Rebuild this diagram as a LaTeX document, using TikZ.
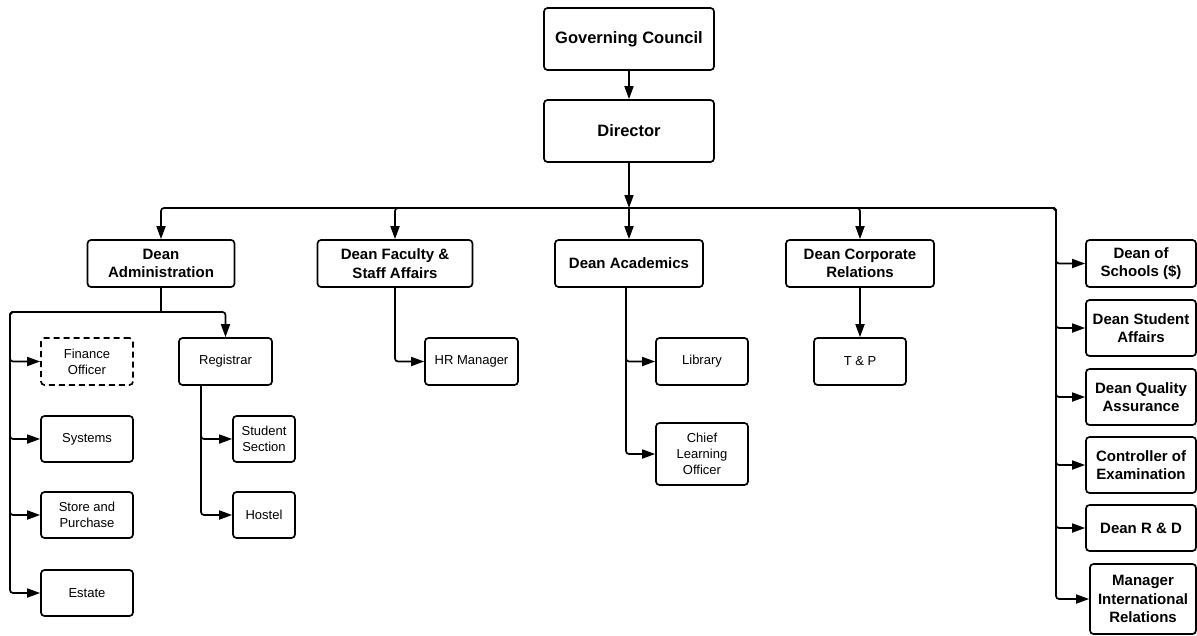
\documentclass[tikz,border=0pt]{standalone}
\usepackage{fontspec}
\setmainfont{Liberation Sans}
\usetikzlibrary{arrows.meta,calc}
\begin{document}
\begin{tikzpicture}[x=1pt,y=-1pt,
  box/.style={draw, line width=1.7pt, rounded corners=3.5pt, align=center, inner sep=0pt},
  topbox/.style={box, font=\bfseries\fontsize{15}{18.5}\selectfont},
  subbox/.style={box, font=\fontsize{13}{16}\selectfont},
  conn/.style={line width=1.7pt, rounded corners=3pt, -{Triangle[length=13pt,width=9pt]}},
  plain/.style={line width=1.7pt, rounded corners=3pt}]
\useasboundingbox (0,0) rectangle (1197,635);

% top
\node[box, font=\bfseries\fontsize{16.5}{19}\selectfont, minimum width=170pt, minimum height=62pt] (gc) at (629,39) {Governing Council};
\node[topbox, font=\bfseries\fontsize{16.5}{19}\selectfont, minimum width=170pt, minimum height=62pt] (dir) at (629,131) {Director};

% deans row
\node[topbox, minimum width=147pt, minimum height=47pt] (dadm) at (161,263.5) {Dean\\Administration};
\node[topbox, minimum width=155pt, minimum height=47pt] (dfac) at (395,263.5) {Dean Faculty \&\\Staff Affairs};
\node[topbox, minimum width=148pt, minimum height=47pt] (dacad) at (629,263.5) {Dean Academics};
\node[topbox, minimum width=148pt, minimum height=47pt] (dcorp) at (860,263.5) {Dean Corporate\\Relations};

% right column
\node[topbox, minimum width=110pt, minimum height=47pt] (dsch) at (1141,263.5) {Dean of\\Schools (\$)};
\node[topbox, minimum width=110pt, minimum height=56pt] (dsa) at (1141,328) {Dean Student\\Affairs};
\node[topbox, minimum width=110pt, minimum height=56pt] (dqa) at (1141,397) {Dean Quality\\Assurance};
\node[topbox, minimum width=110pt, minimum height=56pt] (coe) at (1141,465) {Controller of\\Examination};
\node[topbox, minimum width=110pt, minimum height=46pt] (drd) at (1141,528) {Dean R \& D};
\node[topbox, minimum width=106pt, minimum height=70pt] (mir) at (1143,599) {Manager\\International\\Relations};

% admin subtree
\node[subbox, dash pattern=on 6pt off 4pt, minimum width=92pt, minimum height=47pt] (fo) at (87,361.5) {Finance\\Officer};
\node[subbox, minimum width=92pt, minimum height=46pt] (sys) at (87,439) {Systems};
\node[subbox, minimum width=92pt, minimum height=46pt] (sp) at (87,515) {Store and\\Purchase};
\node[subbox, minimum width=92pt, minimum height=46pt] (est) at (87,593) {Estate};
\node[subbox, minimum width=93pt, minimum height=47pt] (reg) at (225.5,361.5) {Registrar};
\node[subbox, minimum width=62pt, minimum height=46pt] (ss) at (264,439) {Student\\Section};
\node[subbox, minimum width=62pt, minimum height=46pt] (hos) at (264,515) {Hostel};

% other subtrees
\node[subbox, minimum width=93pt, minimum height=47pt] (hr) at (471.5,361.5) {HR Manager};
\node[subbox, minimum width=92pt, minimum height=47pt] (lib) at (702,361.5) {Library};
\node[subbox, minimum width=92pt, minimum height=62pt] (clo) at (702,454) {Chief\\Learning\\Officer};
\node[subbox, minimum width=92pt, minimum height=47pt] (tp) at (860,361.5) {T \& P};

% coordinates
\coordinate (bus) at (629,208);
\coordinate (busR) at (1056,208);
\coordinate (la) at (10,312);
\coordinate (lb) at (161,312);
\coordinate (rx) at (201,385);
\coordinate (ax) at (626,287);

% connectors
\draw[conn] (gc) -- (dir);
\draw[conn] (dir) -- (bus);
\draw[conn] (bus) -| (dadm.north);
\draw[conn] (bus) -| (dfac.north);
\draw[conn] (bus) -- (dacad.north);
\draw[conn] (bus) -| (dcorp.north);
\foreach \n in {dsch,dsa,dqa,coe,drd,mir}{
  \draw[conn] (bus) -- (busR) |- (\n.west);
}

\draw[plain] (dadm.south) -- (lb);
\draw[conn] (lb) -| (reg.north);
\foreach \n in {fo,sys,sp,est}{
  \draw[conn] (lb) -- (la) |- (\n.west);
}
\draw[conn] (rx) |- (ss.west);
\draw[conn] (rx) |- (hos.west);

\draw[conn] (dfac.south) |- (hr.west);
\draw[conn] (ax) |- (lib.west);
\draw[conn] (ax) |- (clo.west);
\draw[conn] (dcorp.south) -- (tp.north);
\end{tikzpicture}
\end{document}
